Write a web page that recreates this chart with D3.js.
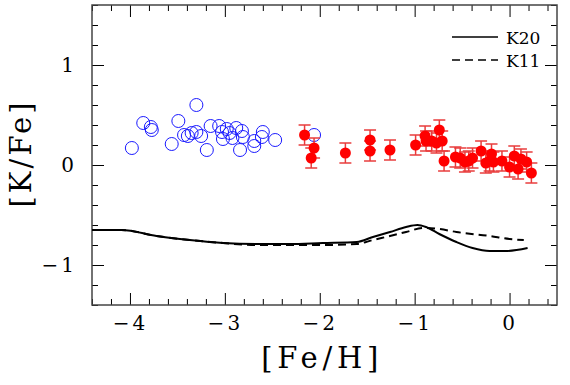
<!DOCTYPE html>
<meta charset="UTF-8">
<style>
    body { margin: 0; background: #fff; }
    svg text { font-family: "DejaVu Serif", "Liberation Serif", serif; fill: #000; }
    .domain { display: none; }
    .tick line { stroke: #000; stroke-width: 1px; }
</style>
<body>
<div id="chart"></div>
<script src="https://d3js.org/d3.v7.min.js"></script>
<script>
    // open blue circles: low metallicity sample
    var blueFeH = [-3.98, -3.86, -3.78, -3.77, -3.56, -3.49, -3.30, -3.43, -3.39, -3.35,
                   -3.30, -3.25, -3.19, -3.15, -3.06, -3.03, -3.02, -2.98, -2.95, -2.92,
                   -2.88, -2.82, -2.84, -2.81, -2.69, -2.69, -2.61, -2.60, -2.47, -2.06];
    var blueKFe = [0.17, 0.42, 0.38, 0.35, 0.21, 0.44, 0.60, 0.30, 0.29, 0.32,
                   0.33, 0.29, 0.15, 0.39, 0.39, 0.33, 0.26, 0.36, 0.32, 0.27,
                   0.37, 0.34, 0.15, 0.28, 0.24, 0.19, 0.28, 0.33, 0.25, 0.30];

    // filled red circles with error bars
    var redFeH = [-2.16, -2.06, -2.09, -1.73, -1.47, -1.47, -1.26, -0.99, -0.89, -0.88,
                  -0.82, -0.77, -0.74, -0.71, -0.69, -0.57, -0.52, -0.47, -0.43, -0.39,
                  -0.30, -0.25, -0.21, -0.19, -0.17, -0.08, 0.00, 0.05, 0.09, 0.12,
                  0.18, 0.23];
    var redKFe = [0.30, 0.17, 0.07, 0.12, 0.25, 0.14, 0.15, 0.20, 0.29, 0.24,
                  0.24, 0.22, 0.35, 0.24, 0.04, 0.08, 0.07, 0.03, 0.04, 0.07,
                  0.14, 0.02, 0.04, 0.11, 0.03, 0.04, -0.02, 0.09, -0.04, 0.06,
                  0.03, -0.08];
    var redErr = [0.10, 0.10, 0.10, 0.10, 0.10, 0.10, 0.10, 0.10, 0.10, 0.10,
                  0.10, 0.10, 0.10, 0.10, 0.10, 0.10, 0.10, 0.10, 0.10, 0.10,
                  0.10, 0.10, 0.10, 0.10, 0.10, 0.10, 0.10, 0.10, 0.10, 0.10,
                  0.10, 0.10];

    // model curves
    var k20FeH = [-4.40, -4.09, -3.72, -3.37, -3.02, -2.67, -2.32, -1.97, -1.61, -1.44,
                  -1.26, -1.09, -0.97, -0.88, -0.74, -0.56, -0.39, -0.21, -0.04, 0.19];
    var k20KFe = [-0.65, -0.65, -0.71, -0.75, -0.78, -0.79, -0.79, -0.78, -0.77, -0.72,
                  -0.67, -0.62, -0.60, -0.62, -0.69, -0.77, -0.83, -0.86, -0.86, -0.83];
    var k11FeH = [-4.40, -4.09, -3.72, -3.37, -3.02, -2.67, -2.32, -1.97, -1.61, -1.44,
                  -1.26, -1.09, -0.91, -0.74, -0.56, -0.21, 0.00, 0.15];
    var k11KFe = [-0.65, -0.65, -0.71, -0.75, -0.78, -0.80, -0.80, -0.80, -0.79, -0.75,
                  -0.71, -0.67, -0.63, -0.64, -0.67, -0.71, -0.74, -0.75];

    var xMajor = [-4, -3, -2, -1, 0];
    var yMajor = [-1, 0, 1];

    var margin = {top: 5, right: 13, bottom: 80, left: 92},
        width = 570 - margin.left - margin.right,
        height = 385 - margin.top - margin.bottom;

    var svg = d3.select("#chart").append("svg")
        .attr("width", 570)
        .attr("height", 385);

    var g = svg.append("g")
        .attr("transform", "translate(" + margin.left + "," + margin.top + ")");

    var x = d3.scaleLinear().domain([-4.4, 0.5]).range([0, width]);
    var y = d3.scaleLinear().domain([-1.4, 1.6]).range([height, 0]);

    var xMinor = d3.range(-4.4, 0.5001, 0.2).filter(function (v) {
        return Math.abs(v - Math.round(v)) > 1e-6;
    });
    var yMinor = d3.range(-1.4, 1.6001, 0.2).filter(function (v) {
        return Math.abs(v - Math.round(v)) > 1e-6;
    });

    function fmt(d) { return d < 0 ? "\u2212" + Math.abs(d) : "" + d; }

    // ticks on all four sides, pointing inwards
    g.append("g").attr("transform", "translate(0," + height + ")")
        .call(d3.axisBottom(x).tickValues(xMinor).tickSize(-6).tickFormat(""));
    g.append("g").attr("transform", "translate(0," + height + ")")
        .call(d3.axisBottom(x).tickValues(xMajor).tickSize(-12).tickPadding(18).tickFormat(fmt))
        .selectAll("text").style("font-size", "20px").attr("dy", "0.35em")
        .attr("letter-spacing", "3px");
    g.append("g")
        .call(d3.axisTop(x).tickValues(xMinor).tickSize(-6).tickFormat(""));
    g.append("g")
        .call(d3.axisTop(x).tickValues(xMajor).tickSize(-12).tickFormat(""));

    g.append("g")
        .call(d3.axisLeft(y).tickValues(yMinor).tickSize(-6).tickFormat(""));
    g.append("g")
        .call(d3.axisLeft(y).tickValues(yMajor).tickSize(-12).tickPadding(15).tickFormat(fmt))
        .selectAll("text").style("font-size", "20px").attr("letter-spacing", "3px");
    g.append("g").attr("transform", "translate(" + width + ",0)")
        .call(d3.axisRight(y).tickValues(yMinor).tickSize(-6).tickFormat(""));
    g.append("g").attr("transform", "translate(" + width + ",0)")
        .call(d3.axisRight(y).tickValues(yMajor).tickSize(-12).tickFormat(""));

    // frame
    g.append("rect")
        .attr("width", width).attr("height", height)
        .attr("fill", "none").attr("stroke", "#444").attr("stroke-width", 1.5);

    var plot = g.append("g");

    // model curves
    var line = d3.line()
        .x(function (d) { return x(d[0]); })
        .y(function (d) { return y(d[1]); })
        .curve(d3.curveMonotoneX);

    plot.append("path")
        .datum(d3.zip(k20FeH, k20KFe))
        .attr("d", line)
        .attr("fill", "none").attr("stroke", "#000").attr("stroke-width", 2);

    plot.append("path")
        .datum(d3.zip(k11FeH, k11KFe))
        .attr("d", line)
        .attr("fill", "none").attr("stroke", "#000").attr("stroke-width", 2)
        .attr("stroke-dasharray", "8,5");

    // blue open circles
    plot.selectAll("circle.blue")
        .data(d3.zip(blueFeH, blueKFe))
        .enter().append("circle")
        .attr("class", "blue")
        .attr("cx", function (d) { return x(d[0]); })
        .attr("cy", function (d) { return y(d[1]); })
        .attr("r", 6.5)
        .attr("fill", "none").attr("stroke", "#1a1aff").attr("stroke-width", 1);

    // red points with error bars
    var redData = d3.zip(redFeH, redKFe, redErr);
    var eb = plot.selectAll("g.err")
        .data(redData)
        .enter().append("g")
        .attr("class", "err")
        .attr("stroke", "#e83c3c").attr("stroke-width", 1.5);
    eb.append("line")
        .attr("x1", function (d) { return x(d[0]); })
        .attr("x2", function (d) { return x(d[0]); })
        .attr("y1", function (d) { return y(d[1] - d[2]); })
        .attr("y2", function (d) { return y(d[1] + d[2]); });
    eb.append("line")
        .attr("x1", function (d) { return x(d[0]) - 6; })
        .attr("x2", function (d) { return x(d[0]) + 6; })
        .attr("y1", function (d) { return y(d[1] + d[2]); })
        .attr("y2", function (d) { return y(d[1] + d[2]); });
    eb.append("line")
        .attr("x1", function (d) { return x(d[0]) - 6; })
        .attr("x2", function (d) { return x(d[0]) + 6; })
        .attr("y1", function (d) { return y(d[1] - d[2]); })
        .attr("y2", function (d) { return y(d[1] - d[2]); });

    plot.selectAll("circle.red")
        .data(redData)
        .enter().append("circle")
        .attr("class", "red")
        .attr("cx", function (d) { return x(d[0]); })
        .attr("cy", function (d) { return y(d[1]); })
        .attr("r", 5.5)
        .attr("fill", "#ff0000");

    // legend
    var legend = g.append("g");
    legend.append("line")
        .attr("x1", 360).attr("x2", 406).attr("y1", 32).attr("y2", 32)
        .attr("stroke", "#000").attr("stroke-width", 1.5);
    legend.append("text").attr("x", 414).attr("y", 39)
        .style("font-size", "17px").text("K20");
    legend.append("line")
        .attr("x1", 360).attr("x2", 406).attr("y1", 55).attr("y2", 55)
        .attr("stroke", "#000").attr("stroke-width", 1.5)
        .attr("stroke-dasharray", "8,5");
    legend.append("text").attr("x", 414).attr("y", 62)
        .style("font-size", "17px").text("K11");

    // axis titles
    svg.append("text")
        .attr("x", margin.left + x(-2.0))
        .attr("y", 368)
        .attr("text-anchor", "middle")
        .attr("textLength", 117).attr("lengthAdjust", "spacing")
        .style("font-size", "29px")
        .text("[Fe/H]");

    svg.append("text")
        .attr("transform", "translate(31,155) rotate(-90)")
        .attr("text-anchor", "middle")
        .attr("textLength", 105).attr("lengthAdjust", "spacing")
        .style("font-size", "29px")
        .text("[K/Fe]");
</script>
</body>
